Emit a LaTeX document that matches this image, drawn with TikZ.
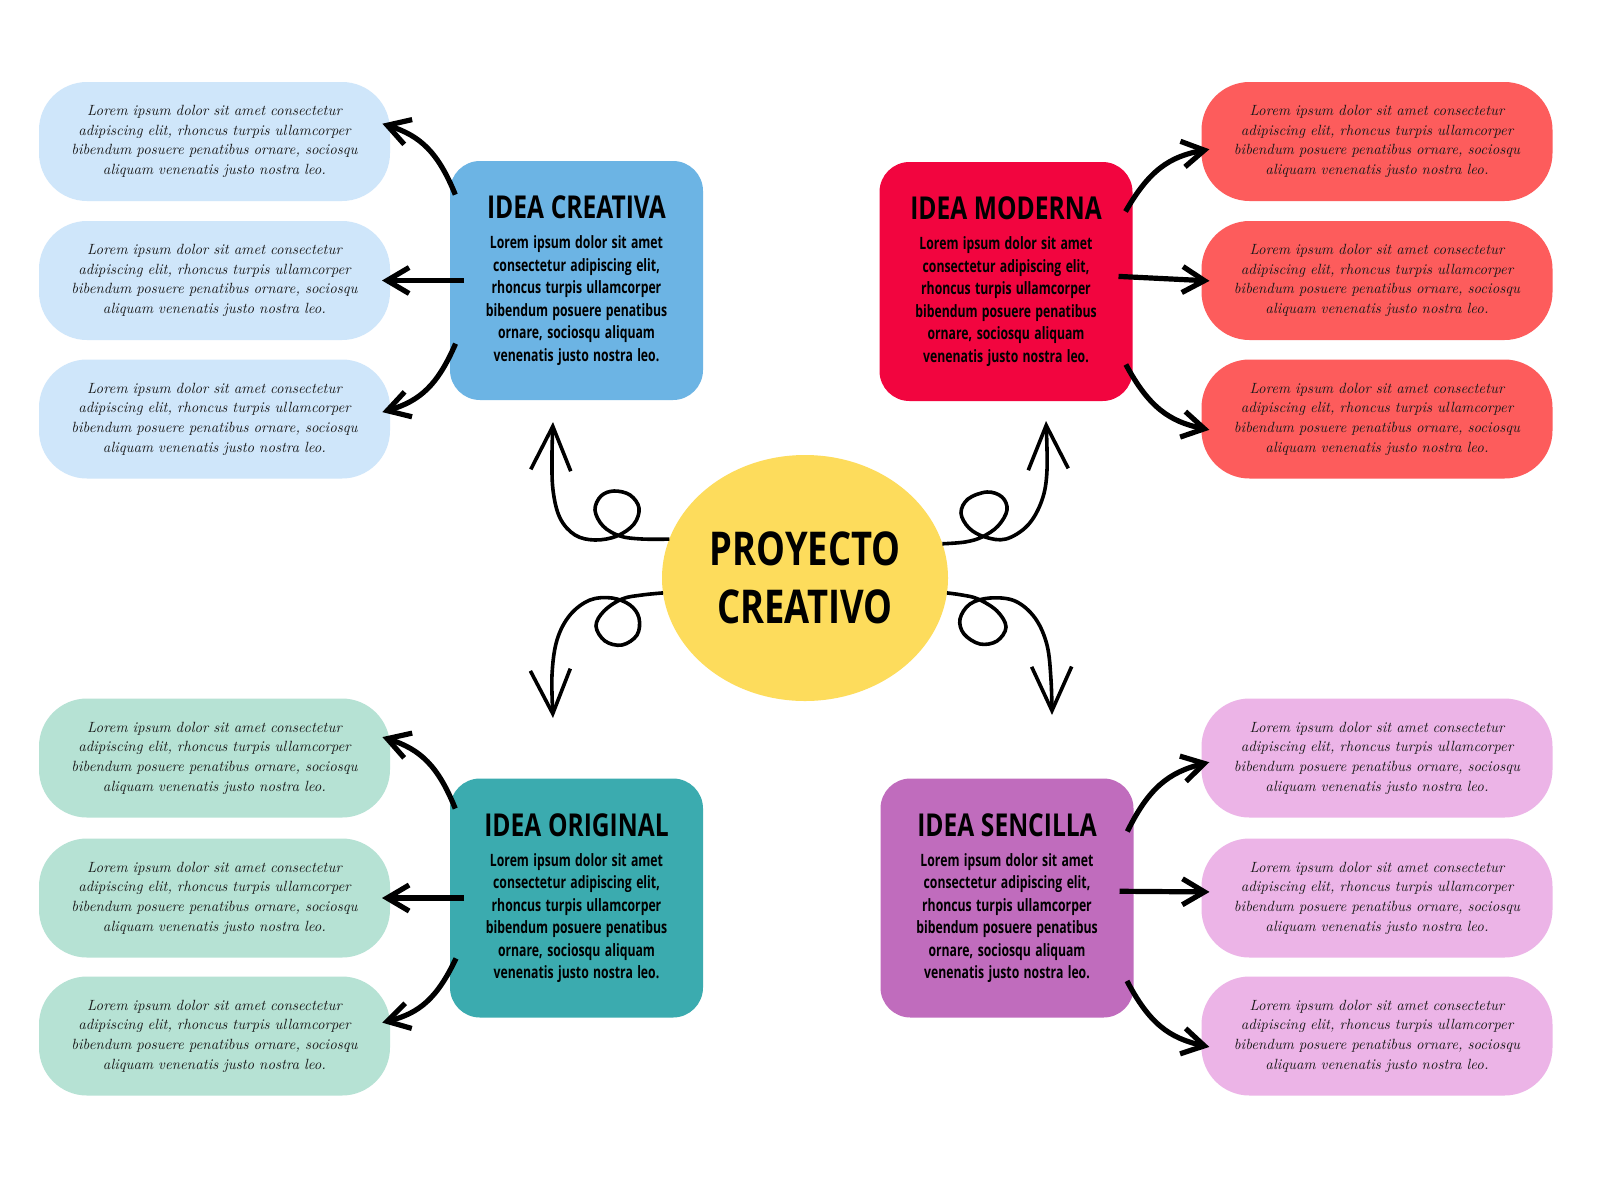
\documentclass[tikz,border=0pt]{standalone}
\usepackage{fontspec}
\usepackage{tikz}
\usetikzlibrary{arrows.meta,shapes.geometric}

\newfontfamily\titlefont[FakeStretch=0.78]{Open Sans}
\newfontfamily\bodyfont[FakeStretch=0.72]{Open Sans}
\newfontfamily\notefont{lmroman10-italic.otf}

\definecolor{ideablue}{HTML}{6CB4E4}
\definecolor{ideared}{HTML}{F2053F}
\definecolor{ideateal}{HTML}{3BABAF}
\definecolor{ideapurple}{HTML}{C06CBD}
\definecolor{coreyellow}{HTML}{FDDC5C}
\definecolor{noteblue}{HTML}{CFE6FA}
\definecolor{notered}{HTML}{FD5C5C}
\definecolor{notemint}{HTML}{B6E2D4}
\definecolor{notepink}{HTML}{ECB4E7}

\newcommand{\ideatext}[1]{%
{\fontsize{15.75}{18}\titlefont\bfseries #1\par}\vspace{3.75pt}%
{\fontsize{8.5}{11.25}\bodyfont\bfseries\spaceskip=0.22em plus 0.05em\relax
Lorem ipsum dolor sit amet\\
consectetur adipiscing elit,\\ rhoncus turpis ullamcorper\\
bibendum posuere penatibus\\ ornare, sociosqu aliquam\\
venenatis justo nostra leo.\par}}

\newcommand{\notetext}{Lorem ipsum dolor sit amet consectetur\\
adipiscing elit, rhoncus turpis ullamcorper\\
bibendum posuere penatibus ornare, sociosqu\\
aliquam venenatis justo nostra leo.}

\begin{document}
\begin{tikzpicture}[x=0.5pt,y=-0.5pt,
  idea/.style={rounded corners=15pt, minimum width=126.5pt, minimum height=119.5pt,
    text width=112pt, align=center, inner sep=0pt, outer sep=0pt},
  note/.style={rounded corners=24pt, minimum width=175.5pt, minimum height=59.5pt,
    text width=172pt, align=center, inner sep=0pt, outer sep=0pt, text=black!90,
    font=\fontsize{7.4}{9.85}\notefont},
  branch/.style={line width=2.6pt, -{Straight Barb[length=11pt,width=13pt]},
    shorten <=-7pt, shorten >=-4pt},
  swirl/.style={line width=1.8pt, -{Straight Barb[length=22pt,width=20pt]}}]

\path[use as bounding box, fill=white] (0,0) rectangle (1600,1200);

% centre
\node[ellipse, fill=coreyellow, minimum width=143pt, minimum height=123pt,
  inner sep=0pt, outer sep=0pt, align=center,
  font=\fontsize{23.3}{28.9}\titlefont\bfseries] (proyecto) at (805,578) {PROYECTO\\CREATIVO};

% ideas
\node[idea, fill=ideablue] (creativa) at (576.5,280.5) {\ideatext{IDEA CREATIVA}};
\node[idea, fill=ideared] (moderna) at (1006,281.5) {\ideatext{IDEA MODERNA}};
\node[idea, fill=ideateal] (original) at (576.5,898) {\ideatext{IDEA ORIGINAL}};
\node[idea, fill=ideapurple] (sencilla) at (1007,898) {\ideatext{IDEA SENCILLA}};

% notes
\node[note, fill=noteblue] (creativa1) at (214.5,141.5) {\notetext};
\node[note, fill=noteblue] (creativa2) at (214.5,280.5) {\notetext};
\node[note, fill=noteblue] (creativa3) at (214.5,419) {\notetext};
\node[note, fill=notered] (moderna1) at (1377,141.5) {\notetext};
\node[note, fill=notered] (moderna2) at (1377,280.5) {\notetext};
\node[note, fill=notered] (moderna3) at (1377,419) {\notetext};
\node[note, fill=notemint] (original1) at (214.5,758) {\notetext};
\node[note, fill=notemint] (original2) at (214.5,898) {\notetext};
\node[note, fill=notemint] (original3) at (214.5,1036) {\notetext};
\node[note, fill=notepink] (sencilla1) at (1377,758) {\notetext};
\node[note, fill=notepink] (sencilla2) at (1377,898) {\notetext};
\node[note, fill=notepink] (sencilla3) at (1377,1036) {\notetext};

% branches
\draw[branch] (creativa.142) to[bend right=25] (creativa1.5);
\draw[branch] (creativa.west) -- (creativa2.east);
\draw[branch] (creativa.211) to[bend left=25] (creativa3.3);
\draw[branch] (moderna.33) to[bend left=25] (moderna1.183);
\draw[branch] (moderna.2) -- (moderna2.west);
\draw[branch] (moderna.-37) to[bend right=25] (moderna3.183);
\draw[branch] (original.141) to[bend right=25] (original1.6);
\draw[branch] (original.west) -- (original2.east);
\draw[branch] (original.210) to[bend left=25] (original3.5);
\draw[branch] (sencilla.32) to[bend left=25] (sencilla1.182);
\draw[branch] (sencilla.3) -- (sencilla2.178);
\draw[branch] (sencilla.-37) to[bend right=25] (sencilla3.183);

% swirls
\coordinate (tipnw) at (553,422);
\coordinate (tipne) at (1046,421);
\coordinate (tipsw) at (553,718);
\coordinate (tipse) at (1052,715);
\draw[swirl] plot[smooth, tension=0.6] coordinates {(proyecto.164) (642,539) (620,536)
  (603,526) (595,510) (601,496) (614,491) (630,495) (639,508) (634,524) (617,536)
  (595,540) (575,535) (560,518) (553,490) (552,455) (tipnw)};
\draw[swirl] plot[smooth, tension=0.6] coordinates {(proyecto.14) (965,542) (982,537)
  (998,526) (1007,510) (1002,497) (987,492) (968,499) (961,513) (969,528) (985,537)
  (1006,539) (1028,525) (1042,500) (1047,470) (tipne)};
\draw[swirl] plot[smooth, tension=0.6] coordinates {(proyecto.186) (642,595) (622,599)
  (604,611) (596,626) (605,641) (622,645) (637,635) (639,618) (630,605) (612,598)
  (590,600) (570,615) (557,640) (552,675) (tipsw)};
\draw[swirl] plot[smooth, tension=0.6] coordinates {(proyecto.-6) (962,595) (978,599)
  (997,611) (1006,627) (997,641) (980,644) (964,634) (960,619) (970,604) (990,598)
  (1015,601) (1035,618) (1047,645) (1051,680) (tipse)};
\end{tikzpicture}
\end{document}
